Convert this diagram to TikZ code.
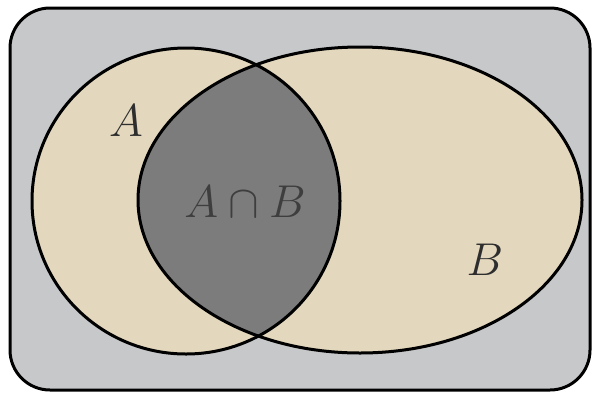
\documentclass[tikz,border=0pt]{standalone}
\usepackage{fix-cm}
\begin{document}
\begin{tikzpicture}[x=1pt,y=-1pt,
  setline/.style={line width=3pt,draw=black},
  lbl/.style={font=\fontsize{46}{50}\selectfont,inner sep=0pt}]
\definecolor{outergray}{HTML}{C7C8CA}
\definecolor{beige}{HTML}{E3D7BD}
\definecolor{darkgray}{HTML}{7C7C7C}
\definecolor{txtdark}{HTML}{2E2E2E}
\useasboundingbox (0,0) rectangle (593,394);
\fill[white] (0,0) rectangle (593,394);
\draw[setline,fill=outergray,rounded corners=40pt] (10,8) rectangle (590,390);
\fill[beige] (186,201) ellipse [x radius=154, y radius=153];
\fill[beige] (360,200) ellipse [x radius=222, y radius=153];
\begin{scope}
  \clip (186,201) ellipse [x radius=154, y radius=153];
  \fill[darkgray] (360,200) ellipse [x radius=222, y radius=153];
\end{scope}
\draw[setline] (186,201) ellipse [x radius=154, y radius=153];
\draw[setline] (360,200) ellipse [x radius=222, y radius=153];
\node[lbl,text=txtdark] (la) at (126,121) {$A$};
\node[lbl,text=txtdark] (lb) at (485,260) {$B$};
\node[lbl,text=txtdark!80!darkgray] (lab) at (245,202) {$A\cap B$};
\end{tikzpicture}
\end{document}
